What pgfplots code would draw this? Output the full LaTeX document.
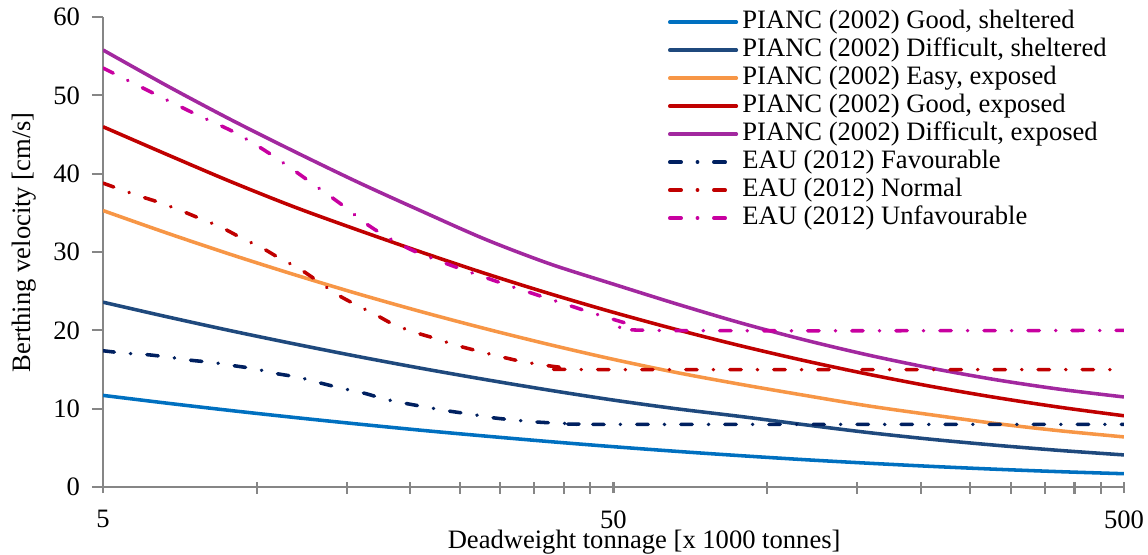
\documentclass[border=0pt]{standalone}
\usepackage{fontspec}
\setmainfont{Liberation Serif}
\usepackage{pgfplots}
\pgfplotsset{compat=1.18}
\definecolor{axisgray}{HTML}{868686}
\definecolor{cGS}{HTML}{0070C0}
\definecolor{cDS}{HTML}{1F497D}
\definecolor{cEE}{HTML}{F79646}
\definecolor{cGE}{HTML}{C00000}
\definecolor{cDE}{HTML}{A2289F}
\definecolor{cFav}{HTML}{002060}
\definecolor{cNor}{HTML}{C00000}
\definecolor{cUnf}{HTML}{C800A0}
\begin{document}
\fontsize{10.5}{12.6}\selectfont
\begin{tikzpicture}[font=\fontsize{10.5}{12.6}\selectfont]
\useasboundingbox (-40.7pt,-26.5pt) rectangle (412.8pt,192.4pt);
\begin{axis}[
  at={(0,0)}, anchor=south west,
  scale only axis, width=403.3pt, height=185.65pt,
  xmode=log, xmin=5, xmax=500, ymin=0, ymax=60,
  axis lines*=left,
  axis line style={draw=axisgray, line width=0.8pt},
  xtick={5,50,500}, xticklabels={5,50,500},
  minor xtick={10,15,20,25,30,35,40,45,100,150,200,250,300,350,400,450},
  ytick={0,10,20,30,40,50,60},
  tick align=outside,
  major tick length=4.4pt, minor tick length=4.6pt,
  x tick style={yshift=2.0pt},
  tick style={draw=axisgray, line width=0.8pt},
  /pgf/number format/assume math mode=true,
  xticklabel style={yshift=-1.2pt},
  yticklabel style={xshift=-1pt},
  xlabel={Deadweight tonnage [x 1000 tonnes]},
  ylabel={Berthing velocity [cm/s]},
  every axis x label/.style={at={(axis description cs:0.530,-0.1310)}, anchor=base},
  every axis y label/.style={at={(axis description cs:-0.0714,0.521)}, anchor=base, rotate=90},
  legend style={at={(axis description cs:0.5534,1.019)}, anchor=north west, draw=none, fill=none,
    inner sep=0pt, outer sep=0pt, row sep=0pt, column sep=1.4pt,
    nodes={inner sep=0.3pt, text height=7.8pt, text depth=2.66pt}},
  legend cell align=left,
  legend image code/.code={\draw[#1, line cap=round] (0.7pt,0pt) -- (27.0pt,0pt);},
  every axis plot/.append style={line width=1.4pt, line join=round, smooth},
  eau/.style={dash pattern=on 4.5pt off 6.4pt on 0.1pt off 6.4pt, line cap=round},
]
\addplot[cGS] coordinates {(5,11.7) (6.67,10.71) (8.89,9.77) (11.86,8.88) (15.81,8.04) (21.08,7.24) (28.12,6.50) (37.49,5.80) (50,5.15) (66.68,4.55) (88.91,4.00) (118.6,3.49) (158.1,3.04) (210.8,2.63) (281.2,2.27) (374.9,1.96) (500,1.7)};
\addlegendentry{PIANC (2002) Good, sheltered}
\addplot[cDS] coordinates {(5,23.6) (6.67,21.74) (8.89,19.96) (11.86,18.27) (15.81,16.66) (21.08,15.14) (28.12,13.71) (37.49,12.36) (50,11.1) (66.68,9.98) (88.91,9.0) (118.6,7.95) (158.1,6.95) (210.8,6.08) (281.2,5.33) (374.9,4.67) (500,4.1)};
\addlegendentry{PIANC (2002) Difficult, sheltered}
\addplot[cEE] coordinates {(5,35.3) (6.67,32.43) (8.89,29.70) (11.86,27.11) (15.81,24.66) (21.08,22.36) (28.12,20.20) (37.49,18.18) (50,16.3) (66.68,14.6) (88.91,13.1) (118.6,11.7) (158.1,10.35) (210.8,9.2) (281.2,8.1) (374.9,7.18) (500,6.4)};
\addlegendentry{PIANC (2002) Easy, exposed}
\addplot[cGE] coordinates {(5,46.0) (6.67,42.46) (8.89,39.0) (11.86,35.75) (15.81,32.8) (21.08,29.96) (28.12,27.24) (37.49,24.69) (50,22.3) (66.68,20.08) (88.91,18.02) (118.6,16.12) (158.1,14.39) (210.8,12.82) (281.2,11.42) (374.9,10.18) (500,9.1)};
\addlegendentry{PIANC (2002) Good, exposed}
\addplot[cDE] coordinates {(5,55.8) (6.67,51.24) (8.89,46.92) (11.86,42.83) (15.81,38.9) (21.08,35.2) (28.12,31.6) (37.49,28.5) (50,25.9) (66.68,23.35) (88.91,20.94) (118.6,18.77) (158.1,16.84) (210.8,15.15) (281.2,13.69) (374.9,12.48) (500,11.5)};
\addlegendentry{PIANC (2002) Difficult, exposed}
\addplot[cFav, eau] coordinates {(5,17.4) (5.5,17.1) (6.1,16.9) (6.7,16.6) (7.4,16.2) (8.2,15.9) (9.0,15.5) (9.9,15.1) (10.9,14.5) (12.1,14.0) (13.3,13.3) (14.7,12.6) (16.2,12.0) (17.9,11.2) (19.5,10.7) (21.5,10.2) (23.8,9.7) (26.3,9.3) (29.0,8.85) (32.0,8.55) (35.4,8.3) (39.0,8.15) (43.0,8.05) (47.6,8.0) (500,8.0)};
\addlegendentry{EAU (2012) Favourable}
\addplot[cNor, eau] coordinates {(5,38.8) (5.8,37.3) (6.4,36.4) (7.1,35.3) (7.8,34.2) (8.5,33.2) (9.4,31.7) (10.2,30.6) (11.1,29.2) (12.1,27.9) (13.1,26.4) (14.2,24.8) (15.2,23.7) (17.1,22.0) (18.5,20.8) (20.3,19.8) (22.3,19.0) (24.6,18.1) (27.0,17.4) (29.8,16.7) (32.7,16.1) (36.2,15.6) (40.5,15.2) (44.3,15.0) (500,15.0)};
\addlegendentry{EAU (2012) Normal}
\addplot[cUnf, eau] coordinates {(5,53.5) (6.4,50.0) (7.6,47.6) (9.1,45.2) (10.7,42.4) (12.7,39.0) (15.0,35.6) (16.0,34.1) (17.4,32.5) (19.1,31.0) (20.9,29.8) (25.0,27.9) (30.3,26.0) (36.3,24.3) (44.1,22.5) (48.3,21.7) (53.7,20.8) (60,20.0) (500,20.0)};
\addlegendentry{EAU (2012) Unfavourable}
\end{axis}
\end{tikzpicture}
\end{document}
